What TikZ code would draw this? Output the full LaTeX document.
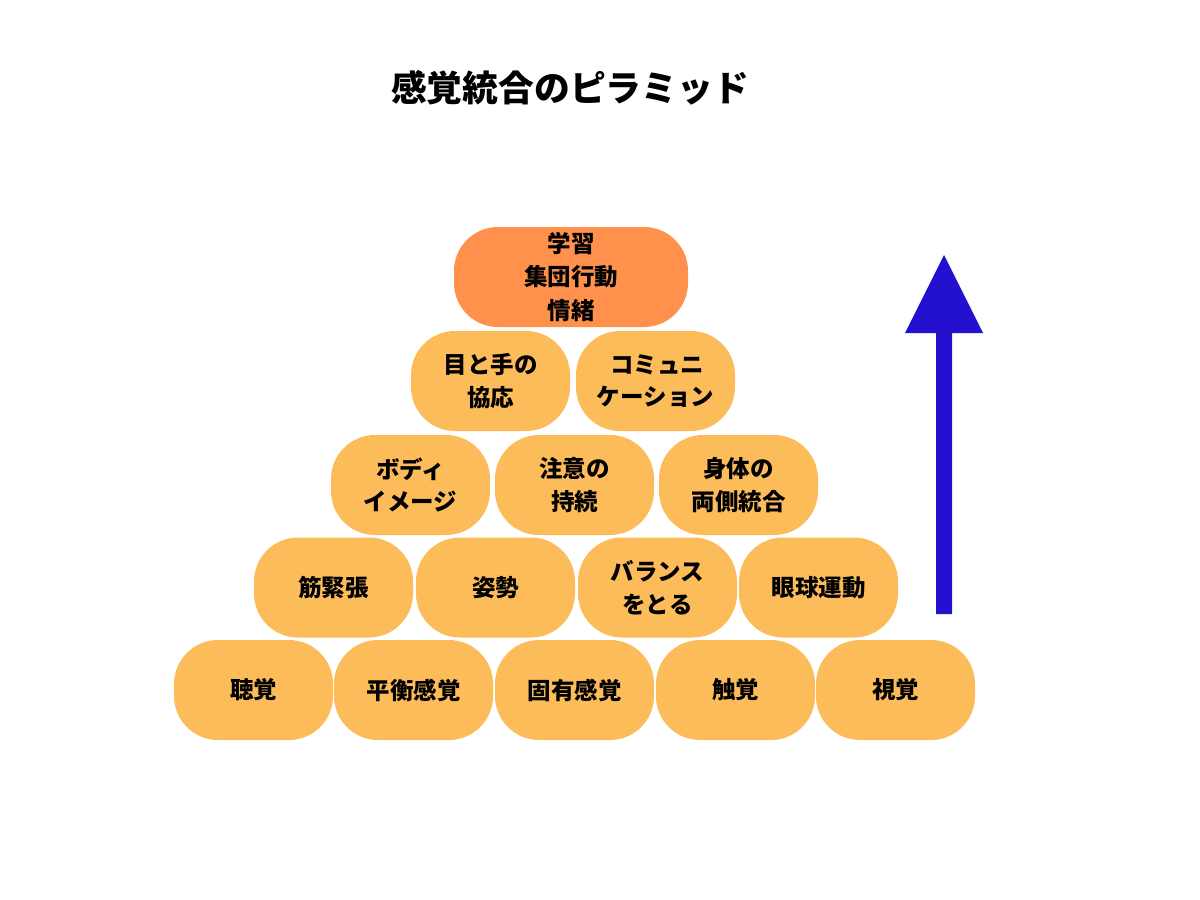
\documentclass[tikz,border=0pt]{standalone}
\usepackage{fontspec}
\newfontfamily\jp{Noto Sans CJK JP}
\definecolor{boxc}{HTML}{FDBC5A}
\definecolor{topc}{HTML}{FF914D}
\definecolor{arrc}{HTML}{2311CF}
\tikzset{
  blk/.style={fill=boxc, draw=none, rounded corners=44pt, minimum width=159pt, minimum height=100pt,
    inner sep=0pt, align=center, font=\jp\bfseries\fontsize{23.5}{32.5}\selectfont, text=black},
  topblk/.style={blk, fill=topc, minimum width=234pt, font=\jp\bfseries\fontsize{23.5}{33.5}\selectfont},
}
\begin{document}
\begin{tikzpicture}[x=1pt,y=-1pt]
\useasboundingbox[fill=white] (0,0) rectangle (1200,900);
\node[font=\jp\bfseries\fontsize{35.8}{40}\selectfont] (title) at (570,88) {感覚統合のピラミッド};
% top
\node[topblk] (t) at (571,277) {学習\\集団行動\\情緒};
% row 2
\node[blk] (r2a) at (490.5,381) {目と手の\\協応};
\node[blk] (r2b) at (655.5,381) {\,コミュニ\\ケーション};
% row 3
\node[blk] (r3a) at (410.5,485) {ボディ\\イメージ};
\node[blk] (r3b) at (574.5,485) {注意の\\持続};
\node[blk] (r3c) at (738.5,485) {身体の\\両側統合};
% row 4
\node[blk] (r4a) at (333.5,587.5) {筋緊張};
\node[blk] (r4b) at (495.5,587.5) {姿勢};
\node[blk] (r4c) at (657.5,587.5) {バランス\\をとる};
\node[blk] (r4d) at (818.5,587.5) {眼球運動};
% row 5
\node[blk] (r5a) at (253.5,690) {聴覚};
\node[blk] (r5b) at (413.5,690) {平衡感覚};
\node[blk] (r5c) at (574.5,690) {固有感覚};
\node[blk] (r5d) at (735.5,690) {触覚};
\node[blk] (r5e) at (895.5,690) {視覚};
% arrow
\fill[arrc] (936,614) -- (936,333) -- (905,333) -- (944,255) -- (983,333) -- (952,333) -- (952,614) -- cycle;
\end{tikzpicture}
\end{document}
